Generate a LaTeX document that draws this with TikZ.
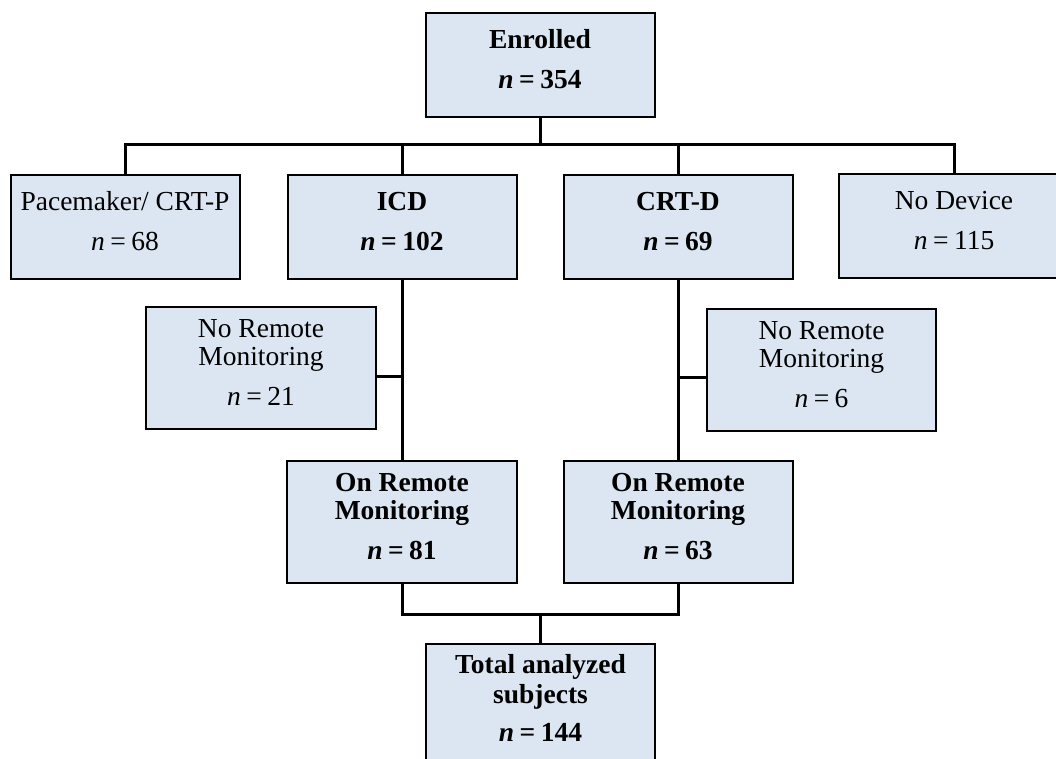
\documentclass[tikz,border=0pt]{standalone}
\usepackage{fontspec}
\setmainfont{Liberation Serif}
\definecolor{boxfill}{HTML}{DCE6F2}
\tikzset{
  box/.style={draw=black, line width=2pt, fill=boxfill, rectangle, align=center,
    minimum width=229pt, minimum height=104pt, inner sep=0pt, text depth=12pt,
    font=\fontsize{27.5}{28}\selectfont},
  tallbox/.style={box, minimum height=122pt},
  conn/.style={draw=black, line width=3pt}
}
\newcommand{\nrm}[1]{\textit{n}\kern0.2em=\kern0.2em#1}
\newcommand{\nbf}[1]{\textbf{\textit{n}\kern0.2em=\kern0.2em#1}}
\begin{document}
\begin{tikzpicture}[x=1pt,y=-1pt]
\useasboundingbox (0,0) rectangle (1056,758);
\clip (0,0) rectangle (1056,758);
\fill[white] (0,0) rectangle (1056,758);
\coordinate (busa) at (0,144);
\coordinate (busb) at (0,614);

\node[box] (enr) at (540,65) {\textbf{Enrolled}\\[12pt]\nbf{354}};
\node[box] (pace) at (125,227) {Pacemaker/ CRT-P\\[12pt]\nrm{68}};
\node[box] (icd) at (402,227) {\textbf{ICD}\\[12pt]\nbf{102}};
\node[box] (crtd) at (678,227) {\textbf{CRT-D}\\[12pt]\nbf{69}};
\node[box, minimum width=230pt] (nodev) at (954,226) {No Device\\[12pt]\nrm{115}};
\node[tallbox, minimum width=230pt] (noicd) at (261,368) {No Remote\\Monitoring\\[12pt]\nrm{21}};
\node[tallbox] (nocrtd) at (821.5,370) {No Remote\\Monitoring\\[12pt]\nrm{6}};
\node[tallbox, minimum width=230pt] (onicd) at (402,522) {\textbf{On Remote}\\\textbf{Monitoring}\\[12pt]\nbf{81}};
\node[tallbox] (oncrtd) at (678,522) {\textbf{On Remote}\\\textbf{Monitoring}\\[12pt]\nbf{63}};
\node[box, minimum height=119pt] (total) at (540.5,703.5) {\textbf{Total analyzed}\\[2pt]\textbf{subjects}\\[10pt]\nbf{144}};

\draw[conn] (enr.south) -- (enr.south |- busa);
\draw[conn] (pace.north) -- (pace.north |- busa) -- (nodev.north |- busa) -- (nodev.north);
\draw[conn] (icd.north) -- (icd.north |- busa);
\draw[conn] (crtd.north) -- (crtd.north |- busa);

\draw[conn] (icd.south) -- (onicd.north);
\draw[conn] ([yshift=-8pt]noicd.east) -- ([yshift=-8pt]noicd.east -| icd.south);
\draw[conn] (crtd.south) -- (oncrtd.north);
\draw[conn] ([yshift=-7pt]nocrtd.west) -- ([yshift=-7pt]nocrtd.west -| crtd.south);

\draw[conn] (onicd.south) -- (onicd.south |- busb) -- (oncrtd.south |- busb) -- (oncrtd.south);
\draw[conn] (total.north) -- (total.north |- busb);
\end{tikzpicture}
\end{document}
